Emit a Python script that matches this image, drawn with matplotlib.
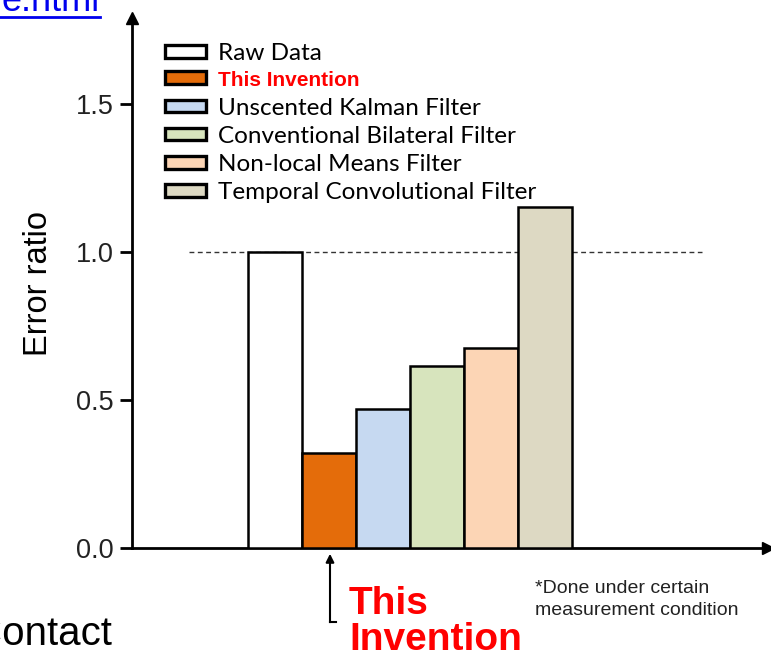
import matplotlib.pyplot as plt
from matplotlib.lines import Line2D

# values
labels = ['Raw Data', 'This Invention', 'Unscented Kalman Filter',
          'Conventional Bilateral Filter', 'Non-local Means Filter',
          'Temporal Convolutional Filter']
error_ratio = [1.0, 0.32, 0.47, 0.615, 0.675, 1.15]
colors = ['#FFFFFF', '#E46C0A', '#C6D9F1', '#D7E4BD', '#FCD5B5', '#DDD9C3']
yticks = [0.0, 0.5, 1.0, 1.5]

W, H = 771, 657
fig = plt.figure(figsize=(W / 100, H / 100), dpi=100)

# axes placed in pixel terms
left, bottom, right, top = 132, 548, 768, 18
ax = fig.add_axes([left / W, 1 - bottom / H, (right - left) / W, (bottom - top) / H])

x = list(range(len(labels)))
bars = ax.bar(x, error_ratio, width=1.0, color=colors, edgecolor='black',
              linewidth=1.8, label=labels, zorder=3)

ax.set_xlim(-2.65, 9.12)
ax.set_ylim(0, 1.79)
ax.hlines(1.0, -1.6, 7.9, colors='#333333', linestyles=(0, (3.5, 2.5)), linewidth=1.0, zorder=2)

for s in ['top', 'right']:
    ax.spines[s].set_visible(False)
ax.spines['left'].set_linewidth(2)
ax.spines['bottom'].set_linewidth(2)
ax.plot(1, 0, '>k', markersize=9, transform=ax.transAxes, clip_on=False)
ax.plot(0, 1, '^k', markersize=9, transform=ax.transAxes, clip_on=False)

ax.set_xticks([])
ax.set_yticks(yticks)
ax.set_yticklabels(['%.1f' % t for t in yticks], fontsize=19.5, family='Liberation Sans', color='#222222')
ax.tick_params(axis='y', direction='out', length=9, width=2, pad=4)
ax.set_ylabel('Error ratio', fontsize=23.5, family='Liberation Sans', labelpad=16)

leg = ax.legend(handles=bars.patches, labels=labels, loc='upper left',
                bbox_to_anchor=(165 / W, 1 - 43 / H), bbox_transform=fig.transFigure,
                frameon=False, prop={'family': 'Lato', 'size': 17.5},
                handlelength=1.7, handleheight=0.42, handletextpad=0.5,
                labelspacing=0.3, borderaxespad=0, borderpad=0)
for p in leg.get_patches():
    p.set_linewidth(2.4)
for t in leg.get_texts():
    if t.get_text() == 'This Invention':
        t.set_color('red')
        t.set_fontweight('bold')
        t.set_family('Liberation Sans')
        t.set_fontsize(15)

# "This Invention" pointer below the orange bar
fig.add_artist(Line2D([330 / W, 330 / W], [1 - 622 / H, 1 - 560 / H], color='black', lw=1.5))
fig.add_artist(Line2D([330 / W, 336 / W], [1 - 622 / H, 1 - 622 / H], color='black', lw=1.5))
ax.annotate('', xy=(330 / W, 1 - 551 / H), xytext=(330 / W, 1 - 566 / H),
            xycoords='figure fraction', textcoords='figure fraction',
            arrowprops=dict(arrowstyle='-|>', color='black', lw=1.5, mutation_scale=12))
fig.text(349 / W, 1 - 650 / H, 'This\nInvention', color='red', fontsize=28, fontweight='bold',
         family=['Liberation Sans Narrow', 'Liberation Sans'], linespacing=1.0, va='baseline')

fig.text(535 / W, 1 - 615 / H, '*Done under certain\nmeasurement condition', fontsize=14,
         family=['Liberation Sans Narrow', 'Liberation Sans'], color='#222222',
         va='baseline', linespacing=1.35)

# cropped page leftovers
fig.text(112 / W, 1 - 645 / H, 'Contact', fontsize=29, family='Liberation Sans', ha='right', va='baseline')
fig.text(100 / W, 1 - 11 / H, 'e.html', fontsize=26, family='Liberation Sans', color='#0000EE',
         ha='right', va='baseline')
fig.add_artist(Line2D([0, 100 / W], [1 - 17 / H, 1 - 17 / H], color='#0000EE', lw=2))

fig.savefig('out.png', dpi=100)
